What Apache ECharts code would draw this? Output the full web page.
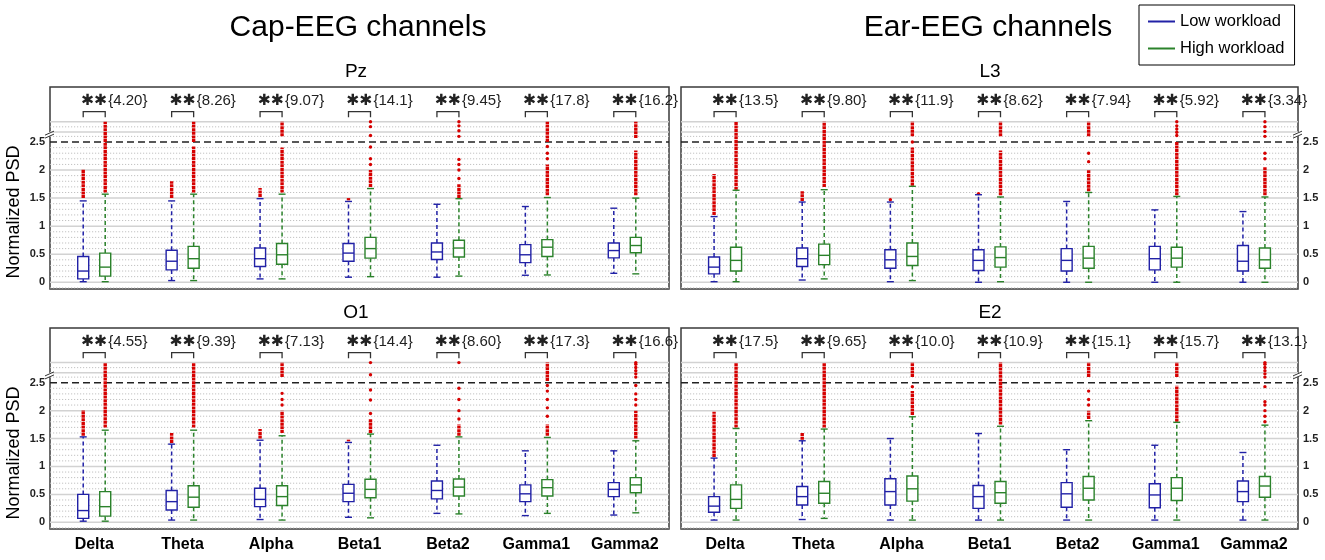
<!DOCTYPE html>
<html>
<head>
<meta charset="utf-8">
<script src="https://cdn.jsdelivr.net/npm/echarts@6/dist/echarts.min.js"></script>
<style>
  html, body { margin: 0; padding: 0; background: #fff; }
  #chart { width: 1325px; height: 560px; }
</style>
</head>
<body>
<div id="chart"></div>
<script>
// ---- data ----
const bands = ['Delta', 'Theta', 'Alpha', 'Beta1', 'Beta2', 'Gamma1', 'Gamma2'];
const yTicks = [0, 0.5, 1, 1.5, 2, 2.5];

// box rows: [lower whisker, Q1, median, Q3, upper whisker]
const pzLow = [[0.01,0.06,0.20,0.46,1.45],[0.03,0.22,0.375,0.57,1.45],[0.06,0.28,0.42,0.61,1.49],[0.09,0.375,0.52,0.69,1.44],[0.09,0.405,0.54,0.70,1.39],[0.125,0.35,0.49,0.67,1.35],[0.16,0.435,0.565,0.70,1.32]];
const pzHigh = [[0.01,0.11,0.27,0.52,1.57],[0.03,0.25,0.42,0.64,1.57],[0.06,0.32,0.49,0.69,1.57],[0.10,0.43,0.60,0.80,1.67],[0.11,0.45,0.61,0.75,1.49],[0.13,0.46,0.625,0.76,1.51],[0.15,0.525,0.655,0.80,1.50]];
const l3Low = [[0.01,0.15,0.27,0.45,1.17],[0.04,0.28,0.42,0.61,1.43],[0.01,0.25,0.40,0.58,1.43],[0.0,0.21,0.39,0.58,1.56],[0.0,0.20,0.39,0.60,1.44],[0.0,0.22,0.42,0.64,1.29],[0.0,0.20,0.375,0.655,1.26]];
const l3High = [[0.01,0.20,0.39,0.625,1.64],[0.06,0.315,0.48,0.68,1.65],[0.03,0.30,0.46,0.70,1.71],[0.01,0.27,0.44,0.63,1.52],[0.0,0.25,0.43,0.64,1.60],[0.0,0.27,0.43,0.625,1.53],[0.0,0.25,0.40,0.61,1.52]];
const o1Low = [[0.02,0.07,0.21,0.50,1.53],[0.04,0.22,0.37,0.57,1.40],[0.05,0.28,0.41,0.61,1.47],[0.09,0.37,0.52,0.68,1.43],[0.16,0.42,0.57,0.74,1.38],[0.12,0.37,0.51,0.67,1.28],[0.13,0.46,0.59,0.71,1.28]];
const o1High = [[0.02,0.11,0.28,0.55,1.65],[0.04,0.27,0.45,0.655,1.65],[0.04,0.30,0.46,0.655,1.55],[0.08,0.44,0.59,0.77,1.58],[0.15,0.47,0.63,0.775,1.53],[0.16,0.47,0.62,0.765,1.52],[0.17,0.53,0.67,0.80,1.46]];
const e2Low = [[0.04,0.18,0.29,0.46,1.15],[0.05,0.31,0.46,0.64,1.46],[0.04,0.31,0.55,0.78,1.50],[0.04,0.25,0.46,0.66,1.59],[0.04,0.27,0.51,0.71,1.30],[0.04,0.26,0.49,0.69,1.38],[0.04,0.37,0.55,0.74,1.25]];
const e2High = [[0.04,0.25,0.41,0.67,1.68],[0.07,0.34,0.52,0.73,1.67],[0.04,0.38,0.60,0.83,1.89],[0.04,0.34,0.53,0.73,1.72],[0.04,0.40,0.61,0.82,1.82],[0.04,0.39,0.61,0.80,1.79],[0.04,0.45,0.65,0.82,1.74]];

// outliers per band: [from, to] = dense run of points, single number = one point
// values above 2.5 sit in the broken (compressed) part of the axis, up to 5
const pzLowOut = [[[1.5,2.02]],[[1.5,1.8]],[[1.52,1.68]],[[1.46,1.5]],[],[],[]];
const pzHighOut = [[[1.6,5]],[[1.6,2.42],[2.5,5]],[[1.6,2.4],[3.2,5]],[[1.7,2.0],2.1,2.2,2.41,3.3,4.4,5.0],[[1.5,1.75],1.85,2.0,2.1,2.19,3.2,3.9,4.5,5.0],[[1.55,2.1],2.2,2.3,2.42,[2.5,5]],[[1.55,2.35],[3.0,5]]];
const l3LowOut = [[[1.2,1.93]],[[1.45,1.62]],[1.47],[1.58],[],[],[]];
const l3HighOut = [[[1.65,5]],[[1.7,5]],[[1.72,2.4],2.5,[3.2,5]],[[1.55,2.35],[3.2,5]],[[1.62,2.0],2.15,2.3,[3.2,5]],[[1.55,2.5],3.3,3.7,4.1,4.5,5.0],[[1.55,2.05],2.2,2.3,3.2,3.8,4.4,5.0]];
const o1LowOut = [[[1.55,2.01]],[[1.42,1.6]],[[1.5,1.67]],[[1.45,1.48]],[],[],[]];
const o1HighOut = [[[1.7,5]],[[1.7,5]],[[1.6,2.0],2.1,2.2,2.31,[3.2,5]],[[1.6,1.85],1.95,2.19,2.37,3.5,5.0],[[1.55,1.75],1.85,2.0,2.2,2.4,5.0],[[1.55,1.75],1.9,2.05,2.2,2.35,2.45,[2.7,5]],[[1.5,2.0],2.1,2.2,2.3,2.45,3.2,3.6,4.0,4.4,4.8,5.0]];
const e2LowOut = [[[1.17,1.98]],[[1.48,1.61]],[],[],[],[],[]];
const e2HighOut = [[[1.7,5]],[[1.7,5]],[[1.92,2.35],2.43,[3.2,5]],[[1.75,5]],[[1.85,2.0],2.1,2.2,2.35,[3.2,5]],[[1.8,2.45],[3.2,5]],[1.8,1.9,2.0,2.1,2.16,2.43,3.2,3.6,4.0,4.4,4.8,5.0]];

// t statistics shown above each pair
const pzT = ['4.20','8.26','9.07','14.1','9.45','17.8','16.2'];
const l3T = ['13.5','9.80','11.9','8.62','7.94','5.92','3.34'];
const o1T = ['4.55','9.39','7.13','14.4','8.60','17.3','16.6'];
const e2T = ['17.5','9.65','10.0','10.9','15.1','15.7','13.1'];

// ---- drawing ----
const FONT = 'Liberation Sans';
const BLUE = '#2121a6';
const GREEN = '#2b822b';
const RED = '#d60000';
const OFF = 11;          // half distance between the two boxes of a band
const BREAK = 2.5, RAW_TOP = 5, SHOW_TOP = 2.86;

function squeeze(v) {
  if (v <= BREAK) return v;
  return BREAK + (Math.min(v, RAW_TOP) - BREAK) * (SHOW_TOP - BREAK) / (RAW_TOP - BREAK);
}

const panels = [
  { title: 'Pz', low: pzLow, high: pzHigh, lowOut: pzLowOut, highOut: pzHighOut, t: pzT,
    grid: { left: 50, top: 87, width: 619, height: 202 }, side: 'left', xLabels: false },
  { title: 'L3', low: l3Low, high: l3High, lowOut: l3LowOut, highOut: l3HighOut, t: l3T,
    grid: { left: 681, top: 87, width: 617, height: 202 }, side: 'right', xLabels: false },
  { title: 'O1', low: o1Low, high: o1High, lowOut: o1LowOut, highOut: o1HighOut, t: o1T,
    grid: { left: 50, top: 328, width: 619, height: 201 }, side: 'left', xLabels: true },
  { title: 'E2', low: e2Low, high: e2High, lowOut: e2LowOut, highOut: e2HighOut, t: e2T,
    grid: { left: 681, top: 328, width: 617, height: 201 }, side: 'right', xLabels: true }
];

// background rules: 1 = solid, 0 = dotted, 2 = dashed break line, 3 = break mark
function ruleData() {
  const rows = [];
  for (let k = -1; k < 25; k++) {
    const v = k / 10;
    rows.push([0, v, k % 5 === 0 && k >= 0 ? 1 : 0]);
  }
  rows.push([0, 2.6, 0], [0, 2.68, 1], [0, 2.77, 0], [0, 2.86, 1]);
  rows.push([0, 2.5, 2], [0, 2.64, 3]);
  return rows;
}

function ruleItem(side) {
  return function (params, api) {
    const cs = params.coordSys;
    const y = api.coord([0, api.value(1)])[1];
    const kind = api.value(2);
    if (kind === 3) {
      const x = side === 'left' ? cs.x : cs.x + cs.width;
      return {
        type: 'group',
        children: [
          { type: 'rect', shape: { x: x - 2, y: y - 2, width: 4, height: 4 }, style: { fill: '#fff' } },
          { type: 'line', shape: { x1: x - 5, y1: y + 1, x2: x + 4, y2: y - 3 }, style: { stroke: '#333', lineWidth: 1 } },
          { type: 'line', shape: { x1: x - 5, y1: y + 4, x2: x + 4, y2: y }, style: { stroke: '#333', lineWidth: 1 } }
        ]
      };
    }
    let style;
    if (kind === 1) style = { stroke: '#d2d2d2', lineWidth: 1.5 };
    else if (kind === 2) style = { stroke: '#222', lineWidth: 1.6, lineDash: [7, 4] };
    else style = { stroke: '#c2c2c2', lineWidth: 1, lineDash: [1.2, 1.8] };
    return { type: 'line', shape: { x1: cs.x, y1: y, x2: cs.x + cs.width, y2: y }, style: style };
  };
}

function boxItem(offset) {
  return function (params, api) {
    const c = api.value(0);
    const at = k => api.coord([c, api.value(k)]);
    const x = at(1)[0] + offset;
    const yMin = at(1)[1], yQ1 = at(2)[1], yMed = at(3)[1], yQ3 = at(4)[1], yMax = at(5)[1];
    const color = api.visual('color');
    const hw = 5.5, cap = 3.5;
    const dash = { stroke: color, lineWidth: 1.5, lineDash: [4, 3] };
    const solid = { stroke: color, lineWidth: 1.4 };
    return {
      type: 'group',
      children: [
        { type: 'line', shape: { x1: x, y1: yQ3, x2: x, y2: yMax }, style: dash },
        { type: 'line', shape: { x1: x, y1: yQ1, x2: x, y2: yMin }, style: dash },
        { type: 'line', shape: { x1: x - cap, y1: yMax, x2: x + cap, y2: yMax }, style: solid },
        { type: 'line', shape: { x1: x - cap, y1: yMin, x2: x + cap, y2: yMin }, style: solid },
        { type: 'rect', shape: { x: x - hw, y: yQ3, width: 2 * hw, height: yQ1 - yQ3 }, style: { fill: '#fff', stroke: color, lineWidth: 1.4 } },
        { type: 'line', shape: { x1: x - hw, y1: yMed, x2: x + hw, y2: yMed }, style: solid }
      ]
    };
  };
}

function outData(out) {
  const rows = [];
  out.forEach((list, i) => {
    list.forEach(e => {
      if (Array.isArray(e)) rows.push([i, squeeze(e[0]), squeeze(e[1])]);
      else rows.push([i, squeeze(e), squeeze(e)]);
    });
  });
  return rows;
}

function outItem(offset) {
  return function (params, api) {
    const i = api.value(0);
    const a = api.coord([i, api.value(1)]);
    const b = api.coord([i, api.value(2)]);
    const x = a[0] + offset;
    if (api.value(1) === api.value(2)) {
      return { type: 'circle', shape: { cx: x, cy: a[1], r: 1.7 }, style: { fill: RED } };
    }
    return { type: 'line', shape: { x1: x, y1: a[1], x2: x, y2: b[1] }, style: { stroke: RED, lineWidth: 3.4, lineDash: [3, 0.6] } };
  };
}

function noteItem(tvals) {
  return function (params, api) {
    const i = params.dataIndex;
    const xc = api.coord([i, 0])[0];
    const xl = xc - OFF, xr = xc + OFF;
    const yTop = api.coord([i, 3.04])[1];
    const yLeg = api.coord([i, 2.94])[1];
    const yTxt = api.coord([i, 3.24])[1];
    return {
      type: 'group',
      children: [
        { type: 'polyline', shape: { points: [[xl, yLeg], [xl, yTop], [xr, yTop], [xr, yLeg]] },
          style: { stroke: '#333', lineWidth: 1.3, fill: null } },
        { type: 'text', x: xc, y: yTxt + 1,
          style: { text: '\u2731\u2731', fontSize: 15.5, fontFamily: 'DejaVu Sans', fill: '#222', align: 'center', verticalAlign: 'middle' } },
        { type: 'text', x: xr + 3, y: yTxt,
          style: { text: '{' + tvals[i] + '}', fontSize: 15, fontFamily: FONT, fill: '#222', align: 'left', verticalAlign: 'middle' } }
      ]
    };
  };
}

const grids = [], xAxes = [], yAxes = [], series = [];
panels.forEach((p, g) => {
  grids.push(Object.assign({ show: true, borderColor: '#3a3a3a', borderWidth: 1.5, backgroundColor: '#fff' }, p.grid));
  xAxes.push({
    type: 'category', gridIndex: g, data: bands,
    axisLine: { show: false }, axisTick: { show: false },
    axisLabel: { show: p.xLabels, fontFamily: FONT, fontSize: 16, fontWeight: 'bold', color: '#000', margin: 8 }
  });
  yAxes.push({
    type: 'value', gridIndex: g, min: -0.12, max: 3.48, position: p.side,
    axisLine: { show: false }, axisTick: { show: false }, splitLine: { show: false },
    axisLabel: { customValues: yTicks, fontFamily: FONT, fontSize: 11, fontWeight: 'bold', color: '#222', margin: 5 }
  });
  const ax = { xAxisIndex: g, yAxisIndex: g };
  series.push(Object.assign({ type: 'custom', z: 1, silent: true, renderItem: ruleItem(p.side), data: ruleData() }, ax));
  series.push(Object.assign({ type: 'custom', z: 3, silent: true, renderItem: outItem(-OFF), data: outData(p.lowOut) }, ax));
  series.push(Object.assign({ type: 'custom', z: 3, silent: true, renderItem: outItem(OFF), data: outData(p.highOut) }, ax));
  series.push(Object.assign({ type: 'custom', name: 'Low workload', z: 4, itemStyle: { color: BLUE },
    renderItem: boxItem(-OFF), data: p.low.map((r, i) => [i].concat(r)) }, ax));
  series.push(Object.assign({ type: 'custom', name: 'High workload', z: 4, itemStyle: { color: GREEN },
    renderItem: boxItem(OFF), data: p.high.map((r, i) => [i].concat(r)) }, ax));
  series.push(Object.assign({ type: 'custom', z: 5, silent: true, renderItem: noteItem(p.t), data: p.t.map((t, i) => [i, 3]) }, ax));
});

const texts = [
  { x: 358, y: 28, text: 'Cap-EEG channels', size: 30 },
  { x: 988, y: 28, text: 'Ear-EEG channels', size: 30 },
  { x: 356, y: 72, text: 'Pz', size: 19 },
  { x: 990, y: 72, text: 'L3', size: 19 },
  { x: 356, y: 313, text: 'O1', size: 19 },
  { x: 990, y: 313, text: 'E2', size: 19 }
];
const graphic = texts.map(t => ({
  type: 'text', x: t.x, y: t.y,
  style: { text: t.text, fontSize: t.size, fontFamily: FONT, fill: '#000', align: 'center', verticalAlign: 'middle' }
}));
[212, 453].forEach(y => graphic.push({
  type: 'text', x: 14, y: y, rotation: Math.PI / 2,
  style: { text: 'Normalized PSD', fontSize: 18, fontFamily: FONT, fill: '#000', align: 'center', verticalAlign: 'middle' }
}));

const chart = echarts.init(document.getElementById('chart'));
chart.setOption({
  animation: false,
  backgroundColor: '#fff',
  legend: {
    orient: 'vertical', left: 1139, top: 5,
    borderColor: '#000', borderWidth: 1, padding: [8, 10, 8, 9], itemGap: 10,
    itemWidth: 27, itemHeight: 2,
    data: [{ name: 'Low workload', icon: 'rect' }, { name: 'High workload', icon: 'rect' }],
    textStyle: { fontFamily: FONT, fontSize: 16.5, color: '#000' }
  },
  grid: grids,
  xAxis: xAxes,
  yAxis: yAxes,
  graphic: graphic,
  series: series
});
</script>
</body>
</html>
